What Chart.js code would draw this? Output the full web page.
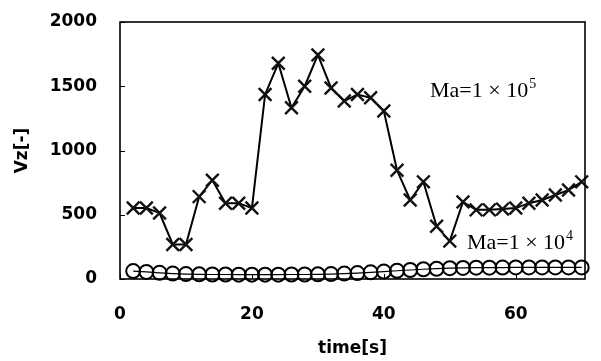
<!DOCTYPE html>
<html>
<head>
<meta charset="utf-8">
<script src="https://cdn.jsdelivr.net/npm/chart.js@4.4.0/dist/chart.umd.min.js"></script>
<style>
  html, body { margin: 0; padding: 0; background: #fff; }
  #wrap { width: 601px; height: 361px; }
</style>
</head>
<body>
<div id="wrap"><canvas id="chart" width="601" height="361"></canvas></div>
<script>
// time axis samples (s)
const times = [2, 4, 6, 8, 10, 12, 14, 16, 18, 20, 22, 24, 26, 28, 30, 32, 34, 36,
               38, 40, 42, 44, 46, 48, 50, 52, 54, 56, 58, 60, 62, 64, 66, 68, 70];
// Ma = 1e5 (crosses)
const vzHigh = [552, 552, 513, 269, 269, 641, 769, 590, 590, 552, 1436, 1679, 1333, 1500, 1744, 1487, 1385, 1436,
                1410, 1308, 846, 615, 756, 410, 295, 600, 538, 538, 544, 552, 590, 615, 654, 692, 756];
// Ma = 1e4 (circles)
const vzLow = [62, 55, 48, 42, 38, 36, 35, 35, 34, 34, 34, 34, 35, 35, 36, 38, 42, 46,
               52, 58, 64, 70, 76, 80, 84, 86, 88, 88, 89, 90, 90, 90, 90, 90, 90];
const xTicks = [0, 20, 40, 60];
const yTicks = [0, 500, 1000, 1500, 2000];
const xMax = 70.5;
const yMax = 2000;

// curve labels: where they sit in data units
const noteText = ['Ma=1 × 10', 'Ma=1 × 10'];
const noteExp = ['5', '4'];
const noteT = [47, 52.6];
const noteV = [1460, 280];

const boxPlugin = {
  id: 'box',
  afterDraw(chart) {
    const ctx = chart.ctx;
    const a = chart.chartArea;
    const xs = chart.scales.x, ys = chart.scales.y;
    ctx.save();
    ctx.strokeStyle = '#000';
    ctx.lineWidth = 1.6;
    ctx.strokeRect(a.left, a.top, a.right - a.left, a.bottom - a.top);
    ctx.lineWidth = 1;
    ctx.beginPath();
    yTicks.forEach(v => {
      const y = Math.round(ys.getPixelForValue(v)) + 0.5;
      ctx.moveTo(a.left, y); ctx.lineTo(a.left + 5, y);
    });
    xTicks.forEach(v => {
      const x = Math.round(xs.getPixelForValue(v)) + 0.5;
      ctx.moveTo(x, a.bottom); ctx.lineTo(x, a.bottom - 5);
    });
    ctx.stroke();

    // curve labels
    ctx.fillStyle = '#000';
    ctx.textBaseline = 'middle';
    noteText.forEach((txt, i) => {
      const x = xs.getPixelForValue(noteT[i]);
      const y = ys.getPixelForValue(noteV[i]);
      ctx.font = '22px "Liberation Serif"';
      ctx.fillText(txt, x, y);
      const w = ctx.measureText(txt).width;
      ctx.font = '14px "Liberation Serif"';
      ctx.fillText(noteExp[i], x + w + 1, y - 7);
    });
    ctx.restore();
  }
};

const tickFont = { family: 'DejaVu Sans', size: 17, weight: 'bold' };

new Chart(document.getElementById('chart'), {
  type: 'line',
  data: {
    datasets: [
      {
        label: 'Ma=1e5',
        data: times.map((t, i) => ({ x: t, y: vzHigh[i] })),
        borderColor: '#000',
        borderWidth: 2,
        pointStyle: 'crossRot',
        pointRadius: 9,
        pointBorderWidth: 2.4,
        pointBorderColor: '#111',
        tension: 0,
        clip: false,
        order: 1
      },
      {
        label: 'Ma=1e4',
        data: times.map((t, i) => ({ x: t, y: vzLow[i] })),
        borderColor: '#000',
        borderWidth: 1.2,
        pointStyle: 'circle',
        pointRadius: 7,
        pointBorderWidth: 2,
        pointBorderColor: '#000',
        pointBackgroundColor: 'rgba(0,0,0,0)',
        tension: 0,
        clip: false,
        order: 2
      }
    ]
  },
  options: {
    responsive: false,
    animation: false,
    layout: { padding: { left: 10, right: 16, top: 22, bottom: 0 } },
    plugins: {
      legend: { display: false },
      tooltip: { enabled: false }
    },
    scales: {
      x: {
        type: 'linear',
        min: 0,
        max: xMax,
        grid: { display: false, drawTicks: false },
        border: { display: false },
        afterBuildTicks(scale) { scale.ticks = xTicks.map(v => ({ value: v })); },
        afterFit(scale) { scale.height = 82; scale.paddingLeft = 0; scale.paddingRight = 0; },
        ticks: { color: '#000', font: tickFont, padding: 25, maxRotation: 0, autoSkip: false,
                 callback: v => String(v) },
        title: {
          display: true,
          text: 'time[s]',
          color: '#000',
          font: tickFont,
          padding: { top: 0, bottom: 2 }
        }
      },
      y: {
        min: 0,
        max: yMax,
        grid: { display: false, drawTicks: false },
        border: { display: false },
        afterBuildTicks(scale) { scale.ticks = yTicks.map(v => ({ value: v })); },
        afterFit(scale) { scale.width = 110; scale.paddingTop = 0; scale.paddingBottom = 0; },
        ticks: { color: '#000', font: tickFont, padding: 23, autoSkip: false,
                 callback: v => String(v) },
        title: {
          display: true,
          text: 'Vz[-]',
          color: '#000',
          font: tickFont,
          padding: { top: 2, bottom: 0 }
        }
      }
    }
  },
  plugins: [boxPlugin]
});
</script>
</body>
</html>
